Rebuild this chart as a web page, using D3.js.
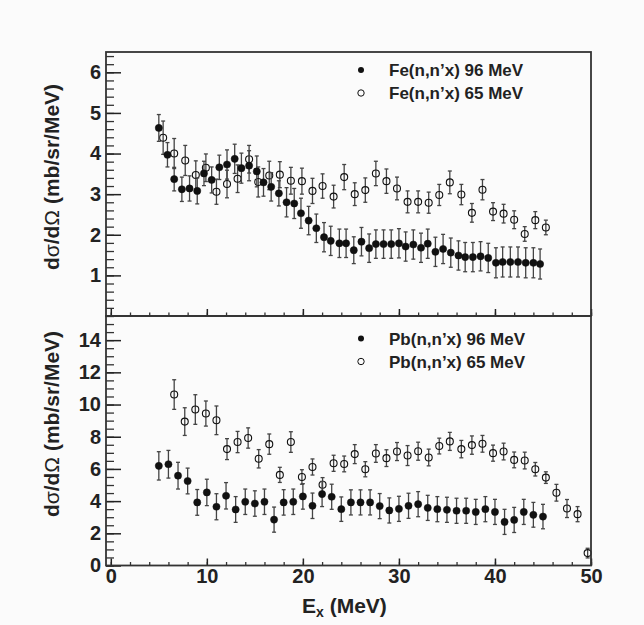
<!DOCTYPE html>
<html>
<head>
<meta charset="utf-8">
<script src="https://cdn.jsdelivr.net/npm/d3@7"></script>
<style>
body { margin: 0; background: #fbfbfb; }
svg { display: block; font-family: "Liberation Sans", Arial, Helvetica, sans-serif; }
</style>
</head>
<body>
<svg id="chart" width="644" height="625"></svg>
<script>
// Fe(n,n'x) 96 MeV
var feHighE = [5.0, 5.9, 6.6, 7.4, 8.2, 9.0, 9.7, 10.5, 11.3, 12.1, 12.9, 13.6, 14.4, 15.2, 15.9, 16.7, 17.5, 18.3, 19.1, 19.8, 20.6, 21.4, 22.2, 22.9,
              23.8, 24.5, 25.3, 26.1, 26.9, 27.6, 28.4, 29.2, 30.0, 30.7, 31.5, 32.3, 33.0, 33.8, 34.6, 35.4, 36.2, 36.9, 37.7, 38.5, 39.3, 40.1, 40.8, 41.6, 42.4, 43.2, 44.0, 44.7];
var feHighV = [4.63, 3.97, 3.37, 3.12, 3.14, 3.08, 3.51, 3.35, 3.66, 3.73, 3.87, 3.64, 3.70, 3.56, 3.29, 3.18, 3.02, 2.80, 2.77, 2.53, 2.35, 2.16, 1.94, 1.85,
              1.79, 1.79, 1.62, 1.83, 1.67, 1.77, 1.77, 1.77, 1.79, 1.71, 1.76, 1.68, 1.78, 1.58, 1.65, 1.56, 1.49, 1.45, 1.45, 1.47, 1.43, 1.31, 1.33, 1.33, 1.33, 1.31, 1.31, 1.28];
var feHighErr = [0.33, 0.30, 0.29, 0.30, 0.31, 0.32, 0.30, 0.32, 0.30, 0.36, 0.36, 0.37, 0.37, 0.38, 0.34, 0.35, 0.31, 0.36, 0.37, 0.37, 0.35, 0.35, 0.36, 0.36,
                 0.35, 0.35, 0.33, 0.35, 0.35, 0.35, 0.35, 0.35, 0.36, 0.36, 0.36, 0.36, 0.36, 0.36, 0.36, 0.36, 0.36, 0.36, 0.36, 0.36, 0.36, 0.37, 0.37, 0.37, 0.37, 0.37, 0.37, 0.37];

// Fe(n,n'x) 65 MeV
var feLowE = [5.45, 6.6, 7.75, 8.85, 9.9, 11.0, 12.1, 13.2, 14.4, 15.35, 16.5, 17.6, 18.75, 19.9, 21.0, 22.05,
              23.2, 24.3, 25.4, 26.5, 27.6, 28.7, 29.8, 30.9, 32.0, 33.1, 34.2, 35.3, 36.5, 37.6, 38.7, 39.8, 40.9, 42.0, 43.1, 44.2, 45.3];
var feLowV = [4.39, 4.00, 3.83, 3.47, 3.65, 3.06, 3.25, 3.38, 3.86, 3.30, 3.46, 3.48, 3.33, 3.32, 3.08, 3.20,
              2.94, 3.42, 3.00, 3.10, 3.51, 3.32, 3.14, 2.81, 2.81, 2.79, 2.98, 3.29, 2.99, 2.54, 3.11, 2.57, 2.52, 2.37, 2.02, 2.36, 2.18];
var feLowErr = [0.41, 0.37, 0.37, 0.35, 0.34, 0.31, 0.34, 0.34, 0.34, 0.37, 0.35, 0.32, 0.33, 0.32, 0.31, 0.30,
                0.28, 0.31, 0.28, 0.30, 0.30, 0.30, 0.28, 0.27, 0.27, 0.26, 0.26, 0.28, 0.25, 0.23, 0.25, 0.22, 0.23, 0.22, 0.18, 0.21, 0.18];

// Pb(n,n'x) 96 MeV
var pbHighE = [5, 6, 7, 8, 9, 10, 11, 12, 13, 14, 15, 16, 17, 18, 19, 20, 21, 22, 23, 24, 25, 26, 27, 28, 29, 30, 31, 32, 33, 34, 35, 36, 37, 38, 39, 40, 41, 42, 43, 44, 45];
var pbHighV = [6.19, 6.29, 5.58, 5.25, 3.92, 4.54, 3.65, 4.33, 3.48, 3.96, 3.85, 3.96, 2.85, 3.92, 3.96, 4.29, 3.71, 4.44, 4.27, 3.50, 3.92,
               3.92, 3.92, 3.69, 3.42, 3.52, 3.71, 3.81, 3.58, 3.50, 3.46, 3.40, 3.40, 3.33, 3.50, 3.33, 2.71, 2.83, 3.33, 3.15, 3.04];
var pbHighErr = [0.88, 0.86, 0.83, 0.80, 0.80, 0.82, 0.81, 0.82, 0.80, 0.79, 0.79, 0.79, 0.78, 0.79, 0.79, 0.79, 0.79, 0.78, 0.78, 0.76, 0.78,
                 0.78, 0.78, 0.78, 0.78, 0.78, 0.78, 0.78, 0.78, 0.78, 0.78, 0.78, 0.78, 0.78, 0.78, 0.78, 0.78, 0.78, 0.78, 0.77, 0.76];

// Pb(n,n'x) 65 MeV
var pbLowE = [6.6, 7.7, 8.8, 9.9, 11.0, 12.1, 13.2, 14.3, 15.4, 16.5, 17.6, 18.75, 19.9, 21.0, 22.05,
              23.2, 24.3, 25.4, 26.5, 27.6, 28.7, 29.8, 30.9, 32.0, 33.1, 34.2, 35.3, 36.5, 37.6, 38.7, 39.8, 40.9, 42.0, 43.1, 44.2, 45.3, 46.4, 47.5, 48.6, 49.65];
var pbLowV = [10.62, 8.94, 9.69, 9.44, 9.02, 7.23, 7.67, 7.92, 6.63, 7.54, 5.63, 7.67, 5.50, 6.12, 5.02,
              6.35, 6.31, 6.92, 5.98, 6.96, 6.67, 7.08, 6.83, 7.10, 6.71, 7.42, 7.71, 7.23, 7.48, 7.56, 6.98, 7.08, 6.56, 6.52, 5.98, 5.46, 4.52, 3.54, 3.19, 0.77];
var pbLowErr = [0.92, 0.86, 0.92, 0.78, 0.89, 0.65, 0.66, 0.63, 0.57, 0.63, 0.47, 0.64, 0.45, 0.50, 0.44,
                0.50, 0.49, 0.59, 0.47, 0.55, 0.52, 0.56, 0.62, 0.56, 0.52, 0.49, 0.56, 0.54, 0.57, 0.52, 0.50, 0.52, 0.49, 0.52, 0.42, 0.36, 0.52, 0.56, 0.47, 0.30];

var xTicks = [0, 10, 20, 30, 40, 50];
var topYTicks = [1, 2, 3, 4, 5, 6];
var botYTicks = [0, 2, 4, 6, 8, 10, 12, 14];

var svg = d3.select("#chart");

// frame edges (note: "top" is reserved on window, so prefixed names)
var frameLeft = 106, frameRight = 591, frameTop = 52, frameMid = 316, frameBottom = 565.5;

var x = d3.scaleLinear().domain([-0.5, 50]).range([frameLeft, frameRight]);
var yTop = d3.scaleLinear().domain([0, 6.5]).range([frameMid, frameTop]);
var yBot = d3.scaleLinear().domain([0, 15.5]).range([frameBottom, frameMid]);

function drawAxes(y, majors, minors, yBottom, showXLabels) {
	// minor y ticks
	svg.append("g").attr("transform", "translate(" + frameLeft + ",0)")
		.call(d3.axisLeft(y).tickValues(minors).tickSize(-8).tickFormat(""))
		.call(function(g) { g.select(".domain").remove(); g.selectAll("line").attr("stroke", "#333").attr("stroke-width", 1.3); });
	// major y ticks
	svg.append("g").attr("transform", "translate(" + frameLeft + ",0)")
		.call(d3.axisLeft(y).tickValues(majors).tickSize(-15).tickPadding(5).tickFormat(d3.format("d")))
		.call(function(g) {
			g.select(".domain").remove();
			g.selectAll("line").attr("stroke", "#222").attr("stroke-width", 1.5);
			g.selectAll("text").attr("font-size", 20).attr("font-weight", "bold").attr("fill", "#222")
				.attr("font-family", "'Liberation Sans', Arial, sans-serif");
		});
	// x ticks
	svg.append("g").attr("transform", "translate(0," + yBottom + ")")
		.call(d3.axisBottom(x).tickValues(d3.range(0, 51, 2)).tickSize(-3.5).tickFormat(""))
		.call(function(g) { g.select(".domain").remove(); g.selectAll("line").attr("stroke", "#333").attr("stroke-width", 1.3); });
	var xa = d3.axisBottom(x).tickValues(xTicks).tickSize(-7).tickPadding(3);
	if (!showXLabels) xa.tickFormat("");
	svg.append("g").attr("transform", "translate(0," + yBottom + ")")
		.call(xa)
		.call(function(g) {
			g.select(".domain").remove();
			g.selectAll("line").attr("stroke", "#222").attr("stroke-width", 1.5);
			g.selectAll("text").attr("font-size", 20).attr("font-weight", "bold").attr("fill", "#222")
				.attr("font-family", "'Liberation Sans', Arial, sans-serif");
		});
}

function drawSeries(y, es, vs, errs, filled) {
	var data = es.map(function(e, i) { return {e: e, v: vs[i], err: errs[i]}; });
	var g = svg.append("g");
	var bars = g.selectAll(".bar").data(data).enter().append("g").attr("stroke", "#444").attr("stroke-width", 1.3);
	bars.append("line")
		.attr("x1", function(d) { return x(d.e); }).attr("x2", function(d) { return x(d.e); })
		.attr("y1", function(d) { return y(d.v - d.err); }).attr("y2", function(d) { return y(d.v + d.err); });
	bars.append("line")
		.attr("x1", function(d) { return x(d.e) - 2; }).attr("x2", function(d) { return x(d.e) + 2; })
		.attr("y1", function(d) { return y(d.v - d.err); }).attr("y2", function(d) { return y(d.v - d.err); });
	bars.append("line")
		.attr("x1", function(d) { return x(d.e) - 2; }).attr("x2", function(d) { return x(d.e) + 2; })
		.attr("y1", function(d) { return y(d.v + d.err); }).attr("y2", function(d) { return y(d.v + d.err); });
	g.selectAll("circle").data(data).enter().append("circle")
		.attr("cx", function(d) { return x(d.e); })
		.attr("cy", function(d) { return y(d.v); })
		.attr("r", filled ? 3.6 : 3.5)
		.attr("fill", filled ? "#111" : "none")
		.attr("stroke", "#111")
		.attr("stroke-width", filled ? 0.5 : 1.1);
}

function legend(y0, label1, label2) {
	svg.append("circle").attr("cx", 361).attr("cy", y0).attr("r", 3).attr("fill", "#111");
	svg.append("circle").attr("cx", 361).attr("cy", y0 + 23).attr("r", 3.2).attr("fill", "none").attr("stroke", "#111").attr("stroke-width", 1);
	svg.append("text").attr("x", 389).attr("y", y0 + 6).text(label1)
		.attr("font-size", 17).attr("font-weight", "bold").attr("fill", "#222");
	svg.append("text").attr("x", 389).attr("y", y0 + 29).text(label2)
		.attr("font-size", 17).attr("font-weight", "bold").attr("fill", "#222");
}

function yTitle(cy) {
	var t = svg.append("text").attr("transform", "translate(52," + cy + ") rotate(-90)")
		.attr("text-anchor", "middle").attr("dy", "0.35em")
		.attr("font-size", 21).attr("font-weight", "bold").attr("fill", "#222");
	t.append("tspan").text("d");
	t.append("tspan").text("σ").attr("font-weight", "normal");
	t.append("tspan").text("/d");
	t.append("tspan").text("Ω").attr("font-weight", "normal");
	t.append("tspan").text(" (mb/sr/MeV)");
}

// top panel: Fe
drawAxes(yTop, topYTicks, d3.range(0, 6.41, 0.2), frameMid, false);
drawSeries(yTop, feLowE, feLowV, feLowErr, false);
drawSeries(yTop, feHighE, feHighV, feHighErr, true);
legend(70, "Fe(n,n\u2019x) 96 MeV", "Fe(n,n\u2019x) 65 MeV");
yTitle(177);

// bottom panel: Pb
drawAxes(yBot, botYTicks, d3.range(0, 15.01, 0.5), frameBottom, true);
drawSeries(yBot, pbLowE, pbLowV, pbLowErr, false);
drawSeries(yBot, pbHighE, pbHighV, pbHighErr, true);
legend(338.5, "Pb(n,n\u2019x) 96 MeV", "Pb(n,n\u2019x) 65 MeV");
yTitle(424);

// frames
svg.append("rect").attr("x", frameLeft).attr("y", frameTop).attr("width", frameRight - frameLeft).attr("height", frameMid - frameTop)
	.attr("fill", "none").attr("stroke", "#333").attr("stroke-width", 1.8);
svg.append("rect").attr("x", frameLeft).attr("y", frameMid).attr("width", frameRight - frameLeft).attr("height", frameBottom - frameMid)
	.attr("fill", "none").attr("stroke", "#333").attr("stroke-width", 1.8);

// x title
var xt = svg.append("text").attr("x", 302).attr("y", 613)
	.attr("font-size", 21).attr("font-weight", "bold").attr("fill", "#222");
xt.append("tspan").text("E");
xt.append("tspan").text("x").attr("font-size", 14).attr("dy", 4);
xt.append("tspan").text(" (MeV)").attr("dy", -4);
</script>
</body>
</html>
